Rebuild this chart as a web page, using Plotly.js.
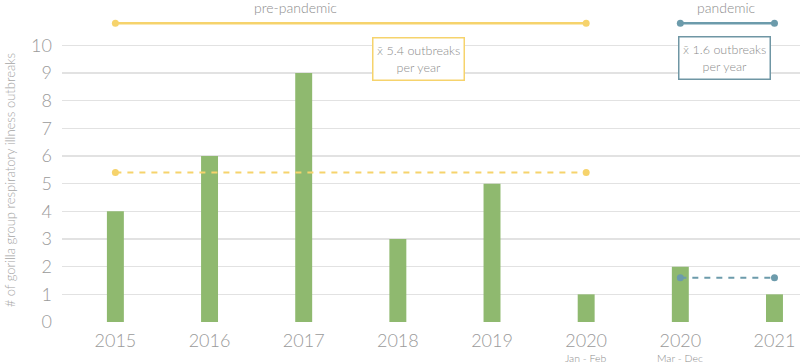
<!DOCTYPE html>
<html>
<head>
<meta charset="utf-8">
<script src="https://cdn.plot.ly/plotly-3.0.1.min.js"></script>
<style>html,body{margin:0;padding:0;background:#fff;}#chart{width:800px;height:364px;}</style>
</head>
<body>
<div id="chart"></div>
<script>
// ---- data ----
const categories = ['2015', '2016', '2017', '2018', '2019', '2020a', '2020b', '2021'];
const tickLabels = ['2015', '2016', '2017', '2018', '2019', '2020', '2020', '2021'];
const subLabels = ['', '', '', '', '', 'Jan - Feb', 'Mar - Dec', ''];
const outbreaks = [4, 6, 9, 3, 5, 1, 2, 1];

const prePeriod = ['2015', '2020a'];
const pandemicPeriod = ['2020b', '2021'];
const preMean = 5.4;
const pandemicMean = 1.6;
const preLabel = 'pre-pandemic';
const pandemicLabel = 'pandemic';
const XBAR = '<span style="font-family:\'DejaVu Sans\';font-size:11px">x\u0304</span>';
const preMeanText = XBAR + ' 5.4 outbreaks<br>per year';
const pandemicMeanText = XBAR + ' 1.6 outbreaks<br>per year';
const yTicks = [0, 1, 2, 3, 4, 5, 6, 7, 8, 9, 10];

// ---- style ----
const GREEN = '#8fb96f';
const YELLOW = '#f6d36c';
const BLUE = '#6c9bab';
const BOXBLUE = '#6f96a4';
const TXT = '#8c8c8c';
const BRACKET_Y = 10.8;
const FAM = 'Lato, "Open Sans", sans-serif';

const traces = [
  {
    type: 'bar', x: categories, y: outbreaks, width: 0.18,
    marker: {color: GREEN}, hoverinfo: 'y', showlegend: false
  },
  {
    type: 'scatter', mode: 'lines+markers', x: prePeriod, y: [preMean, preMean],
    line: {color: YELLOW, width: 2, dash: '6px,6px'}, marker: {color: YELLOW, size: 7},
    showlegend: false, cliponaxis: false
  },
  {
    type: 'scatter', mode: 'lines+markers', x: pandemicPeriod, y: [pandemicMean, pandemicMean],
    line: {color: BLUE, width: 2, dash: '6px,6px'}, marker: {color: BLUE, size: 7},
    showlegend: false, cliponaxis: false
  },
  {
    type: 'scatter', mode: 'lines+markers', x: prePeriod, y: [BRACKET_Y, BRACKET_Y],
    line: {color: YELLOW, width: 2.5}, marker: {color: YELLOW, size: 7},
    showlegend: false, cliponaxis: false
  },
  {
    type: 'scatter', mode: 'lines+markers', x: pandemicPeriod, y: [BRACKET_Y, BRACKET_Y],
    line: {color: BLUE, width: 2.5}, marker: {color: BLUE, size: 7},
    showlegend: false, cliponaxis: false
  }
];

const annotations = [
  {text: preLabel, xref: 'paper', yref: 'paper', x: 0.316, y: 0.976, showarrow: false,
   font: {size: 14, color: TXT, weight: 300}, xanchor: 'center', yanchor: 'middle'},
  {text: pandemicLabel, xref: 'paper', yref: 'paper', x: 0.901, y: 0.976, showarrow: false,
   font: {size: 14, color: TXT, weight: 300}, xanchor: 'center', yanchor: 'middle'},
  {text: preMeanText, xref: 'paper', yref: 'paper', x: 0.483, y: 0.818, showarrow: false,
   xanchor: 'center', yanchor: 'middle',
   font: {size: 12.5, color: TXT, weight: 300}, bgcolor: '#fff', bordercolor: YELLOW, borderwidth: 1.5,
   borderpad: 3, width: 84, height: 35, align: 'center'},
  {text: pandemicMeanText, xref: 'paper', yref: 'paper', x: 0.898, y: 0.821, showarrow: false,
   xanchor: 'center', yanchor: 'middle',
   font: {size: 12.5, color: TXT, weight: 300}, bgcolor: '#fff', bordercolor: BOXBLUE, borderwidth: 1.5,
   borderpad: 3, width: 84, height: 35, align: 'center'},
  {text: '# of gorilla group respiratory illness outbreaks', xref: 'paper', yref: 'paper',
   x: -0.0705, y: 0.44, showarrow: false, textangle: -90,
   font: {size: 13, color: '#a5a5a5', weight: 300}, xanchor: 'center', yanchor: 'middle'}
];
categories.forEach((c, i) => {
  if (subLabels[i]) {
    annotations.push({text: subLabels[i], xref: 'x', yref: 'paper', x: c, y: -0.112,
      showarrow: false, font: {size: 10.5, color: '#8c8c8c', weight: 300},
      xanchor: 'center', yanchor: 'middle'});
  }
});

const layout = {
  width: 800, height: 364,
  margin: {l: 62, r: 0, t: 0, b: 42},
  paper_bgcolor: '#fff', plot_bgcolor: '#fff',
  font: {family: FAM, color: TXT},
  xaxis: {
    type: 'category', categoryorder: 'array', categoryarray: categories,
    range: [-0.567, 7.271],
    tickvals: categories, ticktext: tickLabels,
    showgrid: false, zeroline: false, showline: false, ticks: '',
    ticklabelstandoff: 6,
    tickfont: {size: 18, color: '#9a9a9a', weight: 300}
  },
  yaxis: {
    range: [0, 11.64], tickvals: yTicks, ticktext: yTicks.map(String),
    showgrid: true, gridcolor: '#e2e2e2', gridwidth: 1.5,
    zeroline: false, showline: false, ticks: '',
    ticklabelstandoff: 9,
    tickfont: {size: 18, color: '#9a9a9a', weight: 300}
  },
  annotations: annotations
};

Plotly.newPlot('chart', traces, layout, {displayModeBar: false, staticPlot: true});
</script>
</body>
</html>
